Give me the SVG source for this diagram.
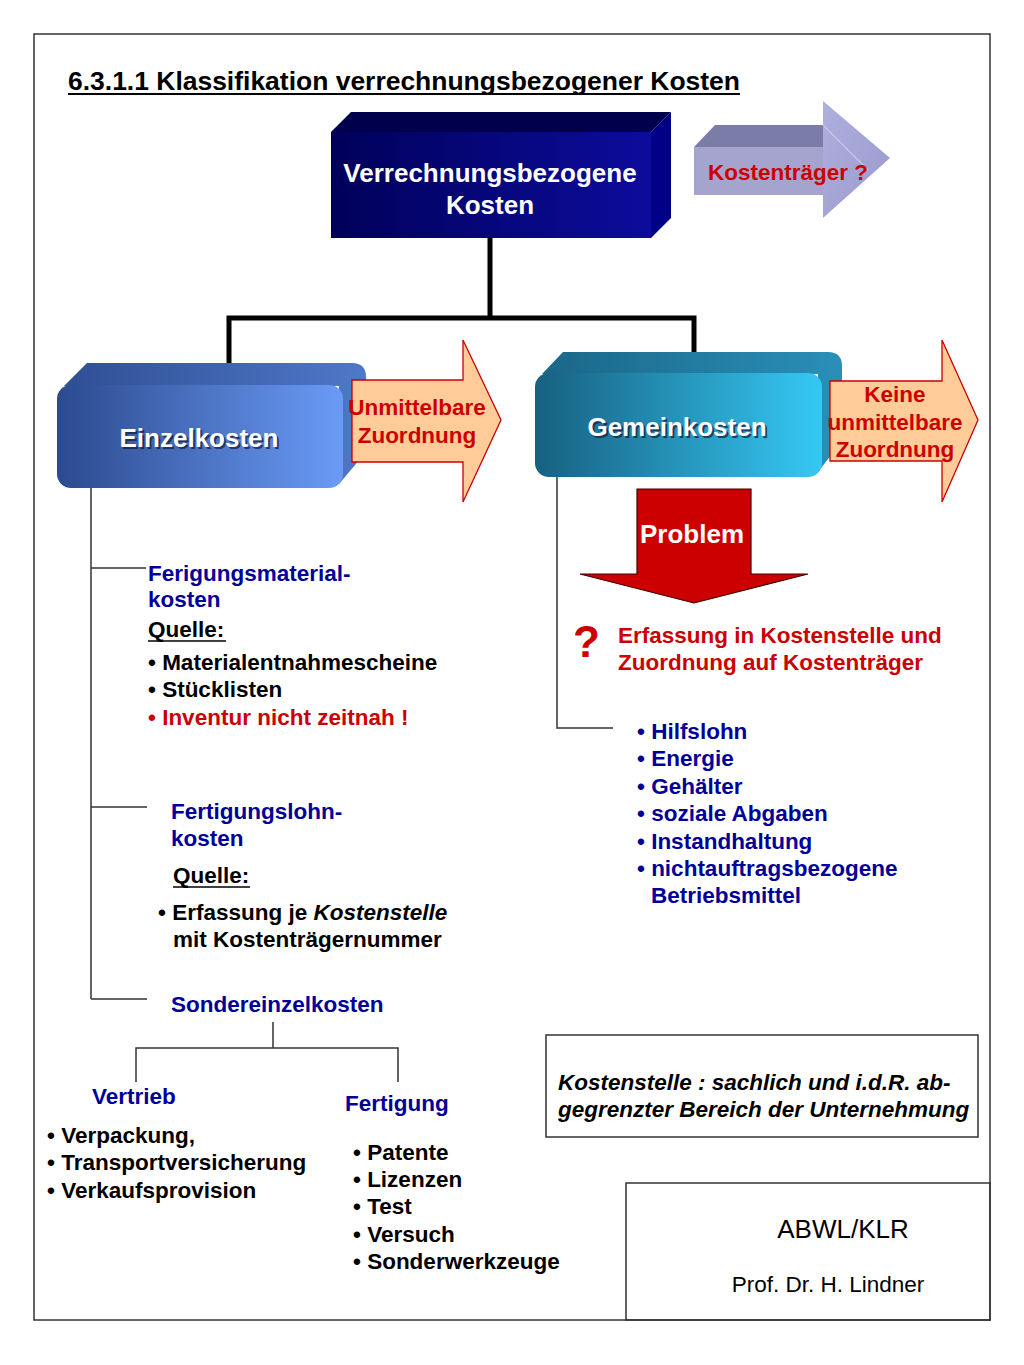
<svg xmlns="http://www.w3.org/2000/svg" width="1024" height="1365" viewBox="0 0 1024 1365">
<defs>
<linearGradient id="gTop" x1="0" y1="0" x2="1" y2="0"><stop offset="0" stop-color="#00005a"/><stop offset="1" stop-color="#0c0c9c"/></linearGradient>
<linearGradient id="gEin" x1="0" y1="0" x2="1" y2="0"><stop offset="0" stop-color="#2c4a8e"/><stop offset="1" stop-color="#6a9bf6"/></linearGradient>
<linearGradient id="gEinX" x1="0" y1="0" x2="1" y2="0"><stop offset="0" stop-color="#2f4f94"/><stop offset="1" stop-color="#4f78c8"/></linearGradient>
<linearGradient id="gGem" x1="0" y1="0" x2="1" y2="0"><stop offset="0" stop-color="#176080"/><stop offset="1" stop-color="#35c8f4"/></linearGradient>
<linearGradient id="gGemX" x1="0" y1="0" x2="1" y2="0"><stop offset="0" stop-color="#1a6788"/><stop offset="1" stop-color="#2a8fb8"/></linearGradient>
<linearGradient id="gKt" x1="0" y1="0" x2="1" y2="1"><stop offset="0" stop-color="#b0b0de"/><stop offset="1" stop-color="#9898cc"/></linearGradient>
</defs>
<style>
text{font-family:"Liberation Sans",Arial,sans-serif}
.b{font-weight:bold;font-size:22.5px}
.navy{fill:#000099}
.blk{fill:#000000}
.red{fill:#cc0000}
.wh{fill:#ffffff;font-weight:bold;font-size:26px}
.sh{fill:#1a2040;opacity:0.75;font-weight:bold;font-size:26px}
.thin{stroke:#333333;stroke-width:1.5;fill:none}
.thick{stroke:#000000;stroke-width:5;fill:none}
.peach{fill:#ffcc99;stroke:#cc0000;stroke-width:1.3}
</style>
<rect x="0" y="0" width="1024" height="1365" fill="#ffffff"/>
<rect x="34" y="34" width="956" height="1286" fill="none" stroke="#333333" stroke-width="1.5"/>

<g id="title">
<text x="68" y="90" font-size="25.5" font-weight="bold" fill="#000" textLength="672" lengthAdjust="spacingAndGlyphs">6.3.1.1 Klassifikation verrechnungsbezogener Kosten</text>
<line x1="68" y1="94" x2="740" y2="94" stroke="#000" stroke-width="2"/>
</g>

<g id="connectors">
<path class="thick" d="M490,238 V318 M229,375 V318 H694 V364"/>
<path class="thin" d="M91,488 V999 M91,568 H146 M91,807 H147 M91,999 H147"/>
<path class="thin" d="M557,477 V728 H613"/>
<path class="thin" d="M273,1022 V1048 M136,1082 V1048 H398 V1082"/>
</g>

<g id="node-verrechnung">
<polygon points="331,132 351,112 671,112 651,132" fill="#00004c"/>
<polygon points="651,132 671,112 671,218 651,238" fill="#000088"/>
<rect x="331" y="132" width="320" height="106" fill="url(#gTop)"/>
<text x="490" y="182" class="wh" text-anchor="middle">Verrechnungsbezogene</text>
<text x="490" y="214" class="wh" text-anchor="middle">Kosten</text>
</g>

<g id="node-kostentraeger">
<polygon points="694,147 715,125 823,125 823,147" fill="#7c7ca8"/>
<rect x="694" y="147" width="130" height="48" fill="#a4a4cf"/>
<polygon points="823,101 890,158 823,218" fill="url(#gKt)"/>
<line x1="823" y1="125" x2="868" y2="170" stroke="#c4c4ea" stroke-width="1.5"/>
<text x="708" y="180" class="b red">Kostenträger ?</text>
</g>

<g id="node-einzelkosten">
<path d="M64,386 L87,363 H352 Q366,363 366,377 V452 L339,484 V386 Z" fill="url(#gEinX)"/>
<rect x="57" y="385" width="286" height="103" rx="14" fill="url(#gEin)"/>
<text x="201" y="449" class="sh" text-anchor="middle">Einzelkosten</text>
<text x="199" y="447" class="wh" text-anchor="middle">Einzelkosten</text>
</g>

<g id="node-unmittelbar">
<polygon class="peach" points="352,380 463,380 463,340 501,420 463,502 463,462 352,462"/>
<text x="417" y="415" class="b red" text-anchor="middle">Unmittelbare</text>
<text x="417" y="443" class="b red" text-anchor="middle">Zuordnung</text>
</g>

<g id="node-gemeinkosten">
<path d="M542,374 L563,352 H828 Q842,352 842,366 V441 L818,472 V374 Z" fill="url(#gGemX)"/>
<rect x="535" y="373" width="287" height="104" rx="14" fill="url(#gGem)"/>
<text x="679" y="438" class="sh" text-anchor="middle">Gemeinkosten</text>
<text x="677" y="436" class="wh" text-anchor="middle">Gemeinkosten</text>
</g>

<g id="node-keine">
<polygon class="peach" points="830,381 942,381 942,340 978,420 942,502 942,461 830,461"/>
<text x="895" y="402" class="b red" text-anchor="middle">Keine</text>
<text x="895" y="430" class="b red" text-anchor="middle">unmittelbare</text>
<text x="895" y="457" class="b red" text-anchor="middle">Zuordnung</text>
</g>

<g id="node-problem">
<polygon points="637,489 751,489 751,574 808,574 694,603 580,574 637,574" fill="#cc0000" stroke="#400000" stroke-width="1.2"/>
<text x="692" y="543" class="wh" text-anchor="middle">Problem</text>
</g>

<g id="node-erfassung">
<text x="573" y="657" font-size="44" font-weight="bold" class="red">?</text>
<text x="618" y="643" class="b red">Erfassung in Kostenstelle und</text>
<text x="618" y="670" class="b red">Zuordnung auf Kostenträger</text>
</g>

<g id="node-material">
<text x="148" y="581" class="b navy">Ferigungsmaterial-</text>
<text x="148" y="607" class="b navy">kosten</text>
<text x="148" y="637" class="b blk">Quelle:</text>
<line x1="148" y1="641" x2="226" y2="641" stroke="#000" stroke-width="1.5"/>
<text x="148" y="670" class="b blk">• Materialentnahmescheine</text>
<text x="148" y="697" class="b blk">• Stücklisten</text>
<text x="148" y="725" class="b red">• Inventur nicht zeitnah !</text>
</g>

<g id="node-lohn">
<text x="171" y="819" class="b navy">Fertigungslohn-</text>
<text x="171" y="846" class="b navy">kosten</text>
<text x="173" y="883" class="b blk">Quelle:</text>
<line x1="173" y1="887" x2="250" y2="887" stroke="#000" stroke-width="1.5"/>
<text x="158" y="920" class="b blk">• Erfassung je <tspan font-style="italic">Kostenstelle</tspan></text>
<text x="173" y="947" class="b blk">mit Kostenträgernummer</text>
</g>

<g id="node-sonder">
<text x="171" y="1012" class="b navy">Sondereinzelkosten</text>
</g>

<g id="node-vertrieb">
<text x="92" y="1104" class="b navy" font-size="21">Vertrieb</text>
<text x="47" y="1143" class="b blk">• Verpackung,</text>
<text x="47" y="1170" class="b blk">• Transportversicherung</text>
<text x="47" y="1198" class="b blk">• Verkaufsprovision</text>
</g>

<g id="node-fertigung">
<text x="345" y="1111" class="b navy">Fertigung</text>
<text x="353" y="1160" class="b blk">• Patente</text>
<text x="353" y="1187" class="b blk">• Lizenzen</text>
<text x="353" y="1214" class="b blk">• Test</text>
<text x="353" y="1242" class="b blk">• Versuch</text>
<text x="353" y="1269" class="b blk">• Sonderwerkzeuge</text>
</g>

<g id="node-gemein-liste">
<text x="637" y="739" class="b navy">• Hilfslohn</text>
<text x="637" y="766" class="b navy">• Energie</text>
<text x="637" y="794" class="b navy">• Gehälter</text>
<text x="637" y="821" class="b navy">• soziale Abgaben</text>
<text x="637" y="849" class="b navy">• Instandhaltung</text>
<text x="637" y="876" class="b navy">• nichtauftragsbezogene</text>
<text x="651" y="903" class="b navy">Betriebsmittel</text>
</g>

<g id="node-definition">
<rect x="546" y="1035" width="432" height="102" fill="none" stroke="#333333" stroke-width="1.5"/>
<text x="558" y="1090" class="b blk" font-style="italic">Kostenstelle : sachlich und i.d.R. ab-</text>
<text x="558" y="1117" class="b blk" font-style="italic">gegrenzter Bereich der Unternehmung</text>
</g>

<g id="node-footer">
<rect x="626" y="1183" width="364" height="137" fill="none" stroke="#333333" stroke-width="1.5"/>
<text x="843" y="1238" font-size="26" fill="#000" text-anchor="middle">ABWL/KLR</text>
<text x="828" y="1292" font-size="22.5" fill="#000" text-anchor="middle">Prof. Dr. H. Lindner</text>
</g>
</svg>
